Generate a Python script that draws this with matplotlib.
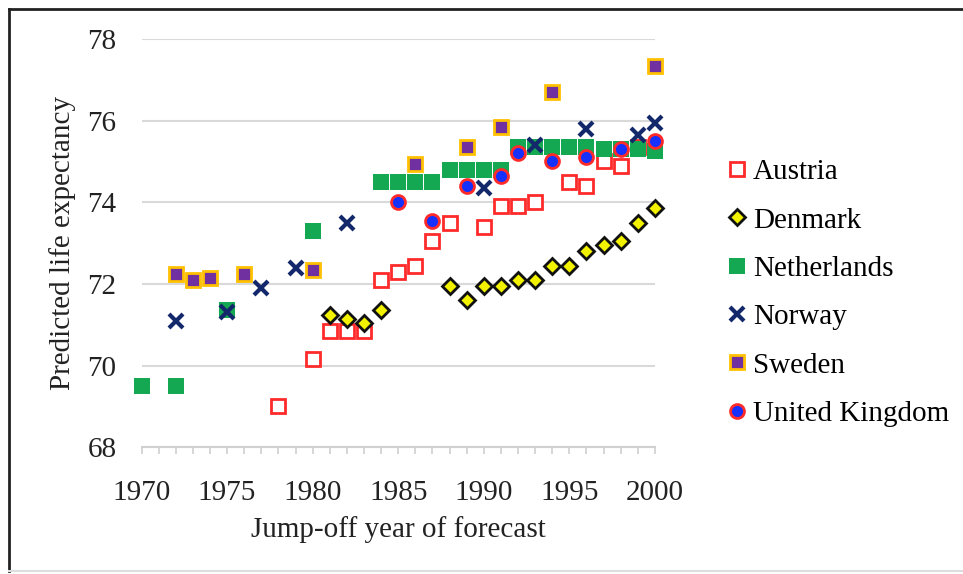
import matplotlib
matplotlib.use('Agg')
import matplotlib.pyplot as plt
from matplotlib.lines import Line2D
import numpy as np

# values
austria_years = [1978, 1980, 1981, 1982, 1983, 1984, 1985, 1986, 1987, 1988, 1990, 1991, 1992, 1993, 1995, 1996, 1997, 1998, 1999]
austria = [69.0, 70.15, 70.85, 70.85, 70.85, 72.1, 72.3, 72.45, 73.05, 73.5, 73.4, 73.9, 73.9, 74.0, 74.5, 74.4, 75.0, 74.9, 75.35]

denmark_years = [1981, 1982, 1983, 1984, 1988, 1989, 1990, 1991, 1992, 1993, 1994, 1995, 1996, 1997, 1998, 1999, 2000]
denmark = [71.25, 71.15, 71.05, 71.35, 71.95, 71.6, 71.95, 71.95, 72.1, 72.1, 72.45, 72.45, 72.8, 72.95, 73.05, 73.5, 73.85]

netherlands_years = [1970, 1972, 1975, 1980, 1984, 1985, 1986, 1987, 1988, 1989, 1990, 1991,
                     1992, 1993, 1994, 1995, 1996, 1997, 1998, 1999, 2000]
netherlands = [69.5, 69.5, 71.35, 73.3, 74.5, 74.5, 74.5, 74.5, 74.8, 74.8, 74.8, 74.8,
               75.35, 75.35, 75.35, 75.35, 75.35, 75.3, 75.3, 75.3, 75.25]

norway_years = [1972, 1975, 1977, 1979, 1982, 1990, 1993, 1996, 1999, 2000]
norway = [71.1, 71.3, 71.9, 72.4, 73.5, 74.35, 75.4, 75.8, 75.65, 75.95]

sweden_years = [1972, 1973, 1974, 1976, 1980, 1986, 1989, 1991, 1994, 2000]
sweden = [72.25, 72.1, 72.15, 72.25, 72.35, 74.95, 75.35, 75.85, 76.7, 77.35]

uk_years = [1985, 1987, 1989, 1991, 1992, 1994, 1996, 1998, 2000]
uk = [74.0, 73.55, 74.4, 74.65, 75.2, 75.0, 75.1, 75.3, 75.5]

plt.rcParams['font.family'] = ['Liberation Serif', 'DejaVu Serif']
fs = 21

fig = plt.figure(figsize=(9.63, 5.74), dpi=100)
ax = fig.add_axes([0.147, 0.221, 0.533, 0.711])

ax.plot(austria_years, austria, ls='none', marker='s', ms=10, mfc='white', mec='#ff2a2a', mew=2,
        label='Austria', clip_on=False, zorder=3)
ax.plot(denmark_years, denmark, ls='none', marker='D', ms=8.5, mfc='#f2f200', mec='#111111', mew=2,
        label='Denmark', clip_on=False, zorder=4)
ax.plot(netherlands_years, netherlands, ls='none', marker='s', ms=11, mfc='#14a853', mec='none', mew=0,
        label='Netherlands', clip_on=False, zorder=5)
ax.plot(norway_years, norway, ls='none', marker='x', ms=10, mec='#13286b', mew=3,
        label='Norway', clip_on=False, zorder=6)
ax.plot(sweden_years, sweden, ls='none', marker='s', ms=10, mfc='#7030a0', mec='#ffc000', mew=2,
        label='Sweden', clip_on=False, zorder=7)
ax.plot(uk_years, uk, ls='none', marker='o', ms=10, mfc='#1530ff', mec='#ff2a2a', mew=2,
        label='United Kingdom', clip_on=False, zorder=8)

ax.set_xlim(1970, 2000)
ax.set_ylim(68, 78)
ax.set_xticks(np.arange(1970, 2001, 5))
ax.set_xticks(np.arange(1970, 2001, 1), minor=True)
ax.set_yticks(np.arange(68, 79, 2))

for s in ['top', 'right', 'left']:
    ax.spines[s].set_visible(False)
ax.spines['bottom'].set_color('#d0d0d0')
ax.spines['bottom'].set_linewidth(1.5)
ax.grid(axis='y', color='#d9d9d9', lw=1.5)
ax.set_axisbelow(True)

ax.tick_params(axis='x', which='both', direction='out', length=5, width=1.2, color='#d0d0d0',
               labelsize=fs, pad=19, labelcolor='#222222')
ax.tick_params(axis='y', length=0, labelsize=fs, pad=18, labelcolor='#222222')

ax.set_xlabel('Jump-off year of forecast', fontsize=fs, color='#222222', labelpad=7)
ax.set_ylabel('Predicted life expectancy', fontsize=fs, color='#222222', labelpad=8)

ax.legend(loc='center left', bbox_to_anchor=(1.12, 0.378), frameon=False, fontsize=fs,
          handlelength=0.6, handletextpad=0.25, labelspacing=0.75, borderaxespad=0)

# outer frame of the original figure
fig.add_artist(Line2D([0.0095, 0.0095], [0.005, 0.985], color='#222222', lw=2, transform=fig.transFigure))
fig.add_artist(Line2D([0.0095, 1.0], [0.985, 0.985], color='#222222', lw=2, transform=fig.transFigure))
fig.add_artist(Line2D([0.0095, 1.0], [0.005, 0.005], color='#dddddd', lw=1.5, transform=fig.transFigure))

fig.savefig('out.png', dpi=100)
